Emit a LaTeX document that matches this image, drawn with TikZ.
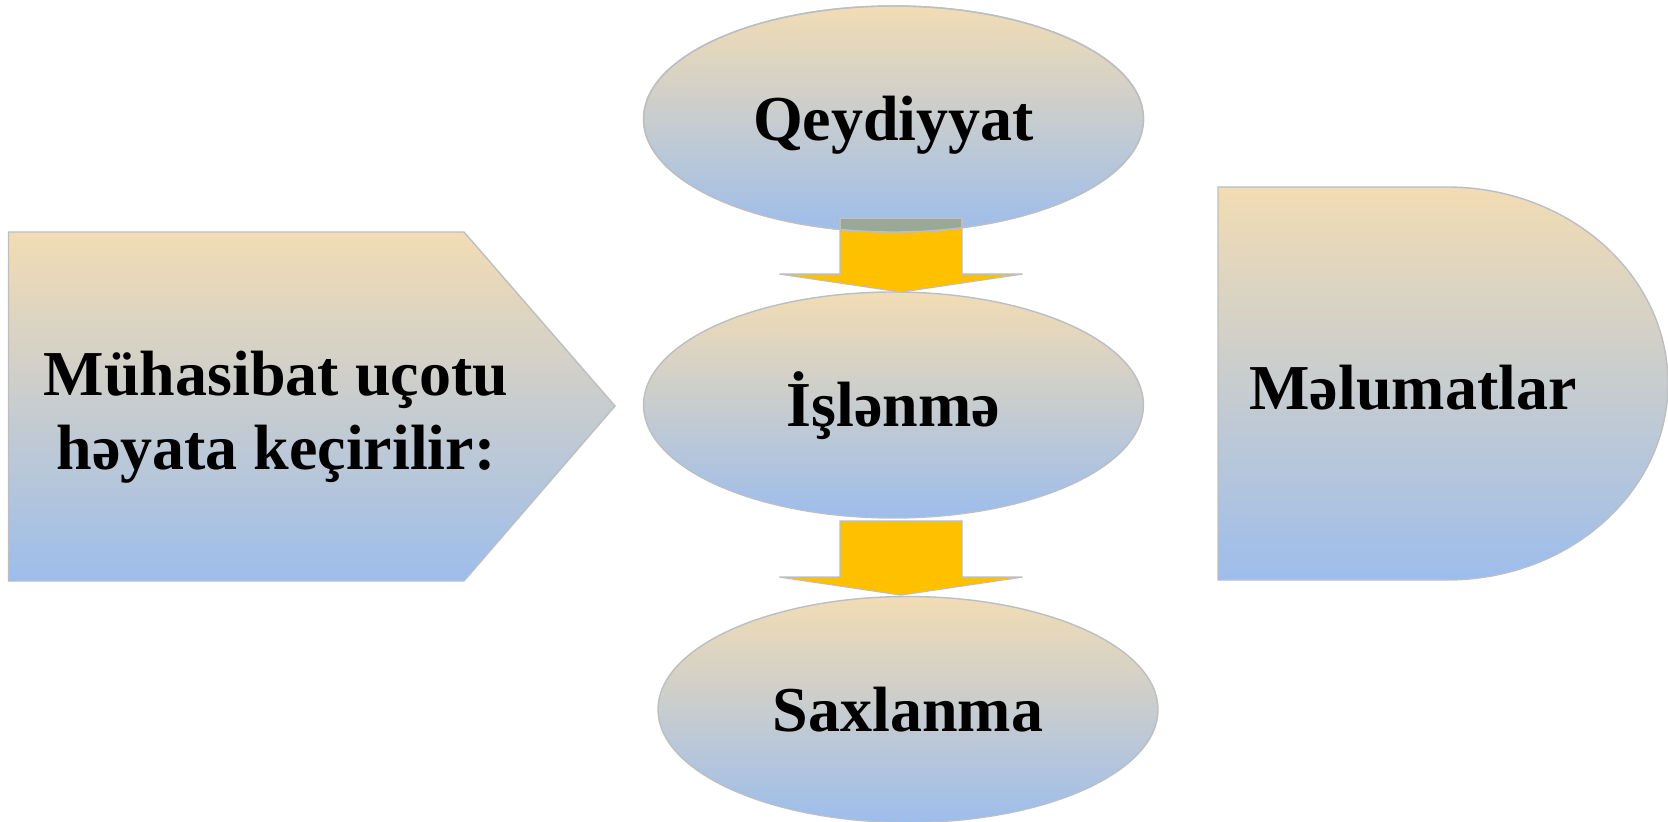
\documentclass[tikz,border=0pt]{standalone}
\usepackage{fontspec}
\setmainfont{Liberation Serif}
\usepackage{tikz}
\usetikzlibrary{shapes,shapes.geometric,calc}
\definecolor{peach}{RGB}{242,220,179}
\definecolor{skyblue}{RGB}{157,189,235}
\definecolor{edgegray}{RGB}{190,190,190}
\definecolor{amber}{RGB}{255,192,0}
\definecolor{overlapcol}{RGB}{154,168,151}
\newcommand{\flowarrow}[1]{%
  \filldraw[arrowbody] (#1) ++(-61,0) -- ++(122,0) -- ++(0,56) -- ++(60.5,0)
    -- ++(-121.5,18) -- ++(-121.5,-18) -- ++(60.5,0) -- cycle;}

\begin{document}
\begin{tikzpicture}[x=0.5pt, y=-0.5pt,
      every node/.append style={font=\bfseries\fontsize{32}{37}\selectfont,text=black},
      grad/.style={top color=peach,bottom color=skyblue,draw=edgegray,line width=0.7pt},
      arrowbody/.style={fill=amber,draw=edgegray,line width=0.7pt}]
    \tikzstyle{stage} = [ellipse,grad,inner sep=0pt,minimum width=250pt,minimum height=113pt,
      text height=22pt,text depth=0pt]
    \useasboundingbox (0,0) rectangle (1668,822);
    \path[grad] (8.5,232) -- (464,232) -- (615,406) -- (464,581) -- (8.5,581) -- cycle;
    \node (uchot) [align=center] at (276,417) {Mühasibat uçotu\\həyata keçirilir:};
    \path[grad] (1218,187) -- (1447,187) arc[start angle=-90,end angle=90,x radius=221,y radius=196.5]
      -- (1218,580) -- cycle;
    \node (melumat) at (1413,388) {Məlumatlar};
    \node (qeyd) [stage] at (893.5,119) {Qeydiyyat};
    \node (islenme) [stage] at (893.5,405) {İşlənmə};
    \node (saxla) [stage] at (908,709.5) {Saxlanma};
    \coordinate (a1) at (901,218);
    \coordinate (a2) at (901,521);
    \flowarrow{a1}
    \flowarrow{a2}
    \begin{scope}
      \clip (qeyd.center) ellipse [x radius=250,y radius=113];
      \filldraw[fill=overlapcol,draw=edgegray,line width=0.7pt] (840,218) rectangle (962,260);
    \end{scope}
    \draw[edgegray,line width=0.7pt] (qeyd.center) ellipse [x radius=250,y radius=113];
\end{tikzpicture}
\end{document}
